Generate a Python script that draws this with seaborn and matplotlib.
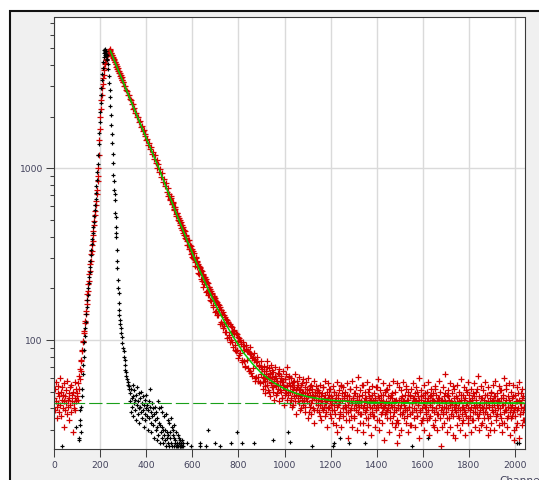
import numpy as np
import pandas as pd
import matplotlib
matplotlib.use("Agg")
import matplotlib.pyplot as plt
import seaborn as sns
from matplotlib.patches import Rectangle
from matplotlib.ticker import LogLocator, NullFormatter, FixedLocator, FixedFormatter

# ---------------- data ----------------
x_ticks = [0, 200, 400, 600, 800, 1000, 1200, 1400, 1600, 1800, 2000]
x_tick_labels = [str(v) for v in x_ticks]
y_ticks = [100, 1000]
y_tick_labels = ["100", "1000"]
axis_label = "Channels"
background_level = 43

# red decay: background before the rise (channels 0..98, every 2nd channel)
red_bg_counts = [46, 39, 52, 44, 57, 41, 35, 49, 43, 54, 38, 47, 60, 42, 50, 36, 45, 53, 40, 48,
                 31, 44, 56, 39, 47, 51, 43, 37, 58, 45, 41, 49, 34, 46, 53, 42, 38, 55, 44, 48,
                 29, 50, 43, 40, 57, 46, 39, 52, 44, 47]
# rise (channels 100..242, every 2nd)
red_rise_counts = [49, 45, 56, 52, 62, 59, 68, 66, 77, 75, 86, 88, 98, 99, 110, 113, 125, 129, 142, 148,
                   163, 170, 185, 194, 212, 222, 243, 254, 276, 290, 316, 331, 360, 379, 411, 432, 470, 494,
                   537, 563, 612, 643, 705, 752, 842, 898, 1010, 1190, 1470, 1690, 1980, 2210, 2490, 2680,
                   2940, 3100, 3370, 3500, 3720, 3830, 4030, 4110, 4280, 4340, 4490, 4530, 4660, 4690,
                   4800, 4810, 4900, 4930]
# just after the peak (channels 244..300, every 2nd)
red_peak_counts = [4850, 4700, 4720, 4560, 4580, 4420, 4440, 4290, 4310, 4160, 4190, 4030, 4060, 3910,
                   3940, 3800, 3830, 3680, 3710, 3570, 3600, 3460, 3500, 3360, 3390, 3270, 3290, 3170, 3190]
# decay (channels 304..900, every 4th)
red_decay_counts = [3020, 3010, 2850, 2840, 2680, 2670, 2520, 2510, 2370, 2380, 2230, 2240, 2100, 2110,
                    1980, 1990, 1860, 1880, 1750, 1770, 1650, 1670, 1550, 1580, 1460, 1490, 1370, 1400,
                    1290, 1330, 1220, 1250, 1140, 1190, 1080, 1120, 1010, 1060, 950, 990, 890, 935, 830,
                    872, 785, 820, 730, 770, 690,
                    712, 655, 668, 618, 630, 571, 598, 541, 549, 528, 492, 503, 481, 447, 466, 421, 438,
                    392, 410, 378, 359, 382, 341, 355, 322,
                    305, 328, 296, 271, 301, 283, 245, 270, 262, 228, 251, 240, 204, 231, 219, 191, 218,
                    184, 205, 170, 192, 186, 155, 177, 172, 146, 168, 139, 162, 151, 124, 150, 141, 118,
                    139, 112, 133, 126, 103, 128, 107, 97, 120, 112, 91, 115, 94, 86, 108, 99, 79, 103,
                    84, 97, 74, 92, 88, 70, 94, 77, 86, 66, 83, 91, 64, 79, 69, 84, 58, 74, 80, 61, 71,
                    56, 75, 63]
# decay, in-between channels (502..898, every 4th)
red_decay2_counts = [665, 689, 622, 640, 581, 598, 577, 527, 551, 498, 515, 466, 489, 437, 455, 407, 430,
                     388, 402, 360, 381, 338, 360, 319, 341, 300, 322, 283, 304, 266, 287, 279, 241, 266,
                     256, 221, 244, 211, 232, 226, 193, 214, 183, 203, 198, 168, 189, 159, 180, 175, 147,
                     167, 140, 160, 155, 128, 149, 124, 145, 121, 137, 111, 131, 126, 104, 124, 100, 119,
                     97, 113, 108, 88, 110, 87, 104, 82, 100, 95, 77, 97, 75, 92, 71, 89, 86, 69, 85, 66,
                     83, 62, 80, 77, 60, 78, 61, 75, 58, 72, 57, 70]
# tail (channels 904..2044, every 3rd)
red_tail_counts = [
    68, 57, 71, 60, 54, 66, 75, 59, 62, 50, 69, 63, 56, 72, 61, 53, 65, 58, 70, 55,
    60, 49, 64, 55, 68, 51, 58, 62, 46, 57, 66, 53, 59, 48, 63, 55, 70, 50, 56, 61,
    54, 45, 60, 50, 57, 42, 53, 63, 48, 51, 58, 44, 55, 61, 47, 52, 40, 56, 50, 59,
    46, 53, 41, 57, 49, 44, 60, 51, 38, 48, 55, 43, 52, 47, 58, 39, 50, 45, 54, 49,
    42, 51, 47, 36, 55, 44, 49, 40, 53, 46, 58, 43, 38, 50, 45, 56, 41, 48, 52, 35,
    47, 43, 54, 39, 50, 45, 32, 48, 57, 42, 46, 51, 37, 44, 55, 49, 40, 53, 46, 41,
    50, 38, 45, 56, 42, 47, 34, 52, 44, 40, 58, 46, 36, 49, 43, 53, 39, 47, 61, 42,
    45, 51, 37, 44, 48, 33, 55, 42, 46, 50, 39, 57, 43, 35, 47, 52, 41, 45, 38, 54,
    44, 49, 36, 46, 53, 40, 43, 59, 47, 34, 51, 42, 45, 38, 56, 48, 41, 50, 37, 44,
    52, 39, 47, 43, 55, 35, 48, 41, 46, 58, 38, 44, 50, 33, 45, 25, 33, 42, 53, 40,
    46, 51, 37, 44, 57, 42, 39, 48, 54, 36, 45, 50, 41, 47, 32, 52, 43, 38, 56, 46,
    40, 49, 44, 53, 36, 47, 42, 60, 39, 45, 51, 34, 48, 43, 55, 41, 46, 38, 50, 44,
    57, 35, 47, 42, 52, 39, 45, 49, 31, 44, 54, 40, 48, 37, 46, 58, 43, 50, 24, 45,
    41, 53, 38, 47, 44, 63, 40, 48, 35, 51, 45, 42, 56, 37, 49, 43, 28, 46, 52, 39,
    47, 42, 55, 36, 50, 44, 39, 59, 45, 33, 48, 41, 53, 46, 38, 51, 43, 57, 35, 48,
    44, 39, 52, 46, 34, 49, 42, 56, 38, 45, 50, 41, 62, 37, 47, 43, 54, 32, 46, 40,
    51, 45, 38, 57, 43, 48, 35, 53, 41, 46, 30, 50, 44, 39, 55, 47, 42, 58, 36, 45,
    49, 40, 54, 44, 37, 51, 46, 33, 48, 42, 60, 39, 45, 52, 35, 47, 41, 56, 38, 43,
    50, 36, 46, 55, 26, 39, 48, 31, 53, 44, 40, 57, 45, 37, 49, 43, 52, 34, 47, 41,
    45]
# tail, in-between channels (905..2045, every 3rd)
red_tail2_counts = [
    61, 52, 66, 58, 49, 63, 55, 70, 51, 60, 47, 64, 57, 53, 67, 50, 59, 45, 62, 54,
    48, 58, 52, 63, 44, 55, 50, 60, 46, 53, 57, 42, 51, 59, 49, 45, 54, 48, 62, 43,
    50, 46, 55, 41, 52, 47, 58, 44, 49, 37, 53, 46, 43, 51, 39, 48, 55, 45, 42, 50,
    44, 38, 49, 46, 52, 35, 47, 43, 41, 54, 37, 45, 50, 40, 46, 33, 48, 43, 51, 39,
    45, 38, 50, 42, 34, 47, 44, 39, 53, 41, 36, 48, 43, 31, 46, 40, 52, 37, 44, 42,
    39, 46, 33, 42, 50, 37, 44, 29, 41, 48, 35, 43, 38, 54, 31, 45, 40, 36, 47, 42,
    34, 41, 48, 38, 27, 44, 39, 52, 36, 43, 31, 46, 40, 35, 49, 42, 30, 45, 38, 41,
    47, 33, 42, 37, 55, 40, 29, 44, 38, 46, 35, 41, 32, 50, 43, 37, 45, 28, 40, 48,
    36, 42, 31, 45, 39, 53, 34, 41, 46, 30, 43, 37, 48, 33, 40, 44, 26, 42, 38, 51,
    35, 43, 40, 29, 46, 38, 42, 33, 49, 36, 41, 31, 44, 39, 56, 34, 40, 28, 45, 37,
    42, 30, 47, 38, 35, 44, 40, 52, 33, 39, 45, 29, 41, 37, 48, 32, 43, 38, 46, 35,
    31, 44, 39, 50, 36, 42, 27, 45, 38, 33, 47, 40, 35, 43, 30, 49, 37, 41, 34, 46,
    39, 28, 43, 36, 48, 41, 32, 45, 38, 52, 34, 40, 44, 30, 37, 46, 42, 35, 39, 31,
    45, 37, 41, 33, 49, 38, 43, 29, 40, 47, 35, 42, 31, 44, 39, 54, 36, 41, 27, 43,
    38, 32, 46, 40, 35, 43, 30, 48, 37, 41, 34, 45, 39, 28, 42, 36, 50, 33, 40, 44,
    36, 41, 29, 45, 38, 34, 47, 40, 31, 43, 37, 52, 35, 42, 30, 39, 46, 33, 41, 38,
    43, 35, 48, 31, 40, 37, 44, 28, 42, 36, 49, 33, 41, 38, 45, 30, 39, 47, 34, 42,
    37, 44, 32, 40, 51, 35, 42, 29, 46, 38, 33, 43, 39, 55, 31, 41, 36, 45, 28, 40,
    35, 42, 38, 47, 30, 41, 36, 44, 33, 39, 49, 27, 43, 37, 40, 32, 46, 38, 34, 41,
    39]

# black instrument response
black_pre_ch = [33, 95, 109, 109, 110, 110, 113, 116]
black_pre_cnt = [24, 31, 27, 26, 32, 39, 34, 29]
black_rise_cnt = [41, 47, 52, 63, 72, 80, 88, 97, 106, 118, 128, 142, 155, 170, 182, 201, 214, 232, 250, 268,
                  290, 312, 335, 362, 390, 420, 455, 490, 528, 570, 615, 665, 720, 785, 860, 950, 1060,
                  1200, 1380, 1600, 1850, 2120, 2400, 2680, 2950, 3250, 3550, 3850, 4150]  # channels 117..213, every 2nd
black_fall_ch = [215, 216, 218, 219, 220, 221, 222, 223, 224, 226, 227, 228, 230, 232, 234, 236, 238, 240,
                 242, 244, 246, 248, 250, 252, 254, 256, 257, 259, 260, 262, 263, 265, 267, 268, 269, 270,
                 271, 273, 274, 276, 277, 279, 281, 282, 283, 285, 287, 289, 291, 293, 295, 298, 301, 303,
                 305, 307, 308, 310, 313, 316, 318, 321, 324]
black_fall_cnt = [4450, 4700, 4900, 4600, 4950, 4750, 4850, 4500, 4800, 4650, 4350, 4550, 4300, 4050, 3800,
                  3450, 3150, 2850, 2600, 2300, 2050, 1800, 1580, 1400, 1220, 1070, 918, 844, 745, 706, 652,
                  547, 521, 455, 419, 399, 334, 290, 262, 224, 201, 188, 164, 150, 140, 130, 124, 117, 110,
                  104, 96, 90, 86, 80, 76, 72, 67, 65, 62, 59, 57, 55, 52]
black_tail_cnt = [54, 44, 49, 38, 52, 46, 41, 55, 36, 47, 43, 51, 39, 45, 34, 48, 42, 53, 37, 44,
                  40, 49, 33, 46, 41, 38, 50, 35, 43, 39, 47, 31, 42, 37, 45, 34, 40, 48, 36, 42,
                  30, 39, 44, 35, 41, 52, 33, 38, 29, 43, 36, 40, 32, 37, 27, 41, 34, 30, 38, 26,
                  35, 31, 44, 28, 33, 40, 25, 32, 29, 41, 27, 31, 38, 25, 30, 28, 36, 26, 30, 37,
                  24, 29, 27, 34, 25, 28, 33, 24, 27, 29, 25, 35, 31, 24, 28, 30, 27, 24, 32, 25,
                  26, 24, 29, 25, 24, 28, 24, 25, 27, 24, 26, 24, 25, 24, 26, 24, 25, 24]  # channels 326..560
black_sparse_ch = [575, 593, 631, 635, 660, 668, 698, 720, 768, 795, 816, 868, 948, 1016, 1025, 1120,
                   1209, 1216, 1239, 1279, 1349, 1552, 1625, 2009, 2020]
black_sparse_cnt = [25, 24, 24, 25, 24, 30, 25, 24, 25, 29, 25, 25, 26, 29, 25.5, 24, 24, 25, 27, 25,
                    25, 24, 27, 25, 25]

# fitted curve (green)
fit_ch = [243, 250, 270, 300, 340, 380, 420, 455, 500, 540, 580, 620, 660, 700, 740, 780, 820, 860,
          900, 950, 1000, 1050, 1100, 1150, 1200, 1300, 1400, 1500, 1700, 2040]
fit_cnt = [4850, 4600, 3956, 3155, 2337, 1733, 1288, 996, 692, 504, 371, 276, 209, 161, 127, 103, 85,
           73, 64, 56.8, 52.0, 48.9, 46.8, 45.5, 44.6, 43.7, 43.3, 43.1, 43.0, 43.0]

# ---------------- assemble tables ----------------
def chans(start, step, vals):
    return list(range(start, start + step * len(vals), step))

red_df = pd.DataFrame({
    "channel": chans(0, 2, red_bg_counts) + chans(100, 2, red_rise_counts) + chans(244, 2, red_peak_counts)
               + chans(304, 4, red_decay_counts) + chans(502, 4, red_decay2_counts)
               + chans(904, 3, red_tail_counts) + chans(905, 3, red_tail2_counts),
    "counts": red_bg_counts + red_rise_counts + red_peak_counts + red_decay_counts + red_decay2_counts
              + red_tail_counts + red_tail2_counts,
})
black_df = pd.DataFrame({
    "channel": black_pre_ch + chans(117, 2, black_rise_cnt) + black_fall_ch + chans(326, 2, black_tail_cnt)
               + black_sparse_ch,
    "counts": black_pre_cnt + black_rise_cnt + black_fall_cnt + black_tail_cnt + black_sparse_cnt,
})
fit_df = pd.DataFrame({"channel": fit_ch, "counts": fit_cnt})

# ---------------- style ----------------
sns.set_theme(style="ticks")
plt.rcParams['font.family'] = ['Liberation Sans Narrow', 'DejaVu Sans']

W, H = 539, 480
fig = plt.figure(figsize=(W / 100, H / 100), dpi=100)
fig.patch.set_facecolor("white")
frame = Rectangle((9.5 / W, -0.1), 1.2, 1 - 11.3 / H + 0.1, transform=fig.transFigure,
                  facecolor="#f0f0f0", edgecolor="#111111", lw=1.5, zorder=-10)
fig.add_artist(frame)

left, right, top, bottom = 54.3, 525.3, 17.5, 449.3
ax = fig.add_axes([left / W, 1 - bottom / H, (right - left) / W, (bottom - top) / H])
ax.set_facecolor("white")

sns.scatterplot(data=red_df, x="channel", y="counts", marker="+", s=13, linewidth=0.9,
                color="#d20000", ax=ax, zorder=2, legend=False)
sns.scatterplot(data=black_df, x="channel", y="counts", marker="+", s=10, linewidth=0.85,
                color="#000000", ax=ax, zorder=3, legend=False)
ax.axhline(background_level, color="#1aa01a", lw=0.8, ls=(0, (12, 3.6)), zorder=4)
sns.lineplot(data=fit_df, x="channel", y="counts", color="#00cc00", lw=1.1, sort=False,
             estimator=None, ax=ax, zorder=5)

ax.set_yscale("log")
ax.set_xlim(0, 2046)
ax.set_ylim(23.1, 7560)

ax.xaxis.set_major_locator(FixedLocator(x_ticks))
ax.xaxis.set_major_formatter(FixedFormatter(x_tick_labels))
ax.yaxis.set_major_locator(FixedLocator(y_ticks))
ax.yaxis.set_major_formatter(FixedFormatter(y_tick_labels))
ax.yaxis.set_minor_locator(LogLocator(base=10, subs=np.arange(2, 10), numticks=20))
ax.yaxis.set_minor_formatter(NullFormatter())

ax.grid(True, which="major", color="#dadada", lw=1.0)
ax.set_axisbelow(True)
ax.set_xlabel("")
ax.set_ylabel("")

label_color = "#40405a"
ax.tick_params(axis="both", which="both", direction="out", color="#404040", width=0.75)
ax.tick_params(axis="x", which="major", length=6, pad=2.5, labelsize=6.6, labelcolor=label_color)
ax.tick_params(axis="x", which="minor", bottom=False)
ax.tick_params(axis="y", which="major", length=6, pad=2.2, labelsize=6.6, labelcolor=label_color)
ax.tick_params(axis="y", which="minor", length=2.9)
for sp in ax.spines.values():
    sp.set_color("#3a3a3a")
    sp.set_linewidth(0.8)
    sp.set_visible(True)

# axis title, partly cut off by the image border as in the reference
fig.text(499 / W, 1 - 476 / H, axis_label, ha="left", va="top", fontsize=7.6,
         family=["DejaVu Sans"], color=label_color)

fig.savefig("out.png", dpi=100)
